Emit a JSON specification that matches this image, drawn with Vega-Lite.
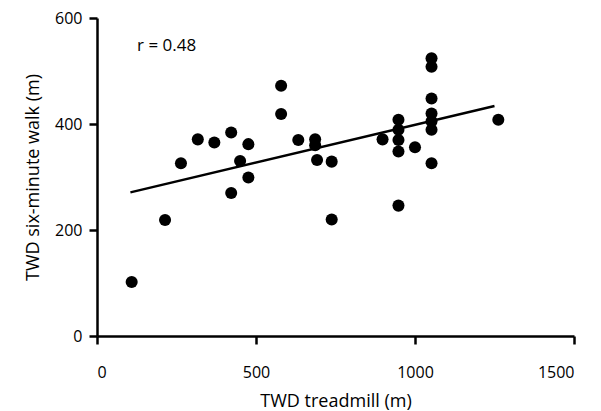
{
  "$schema": "https://vega.github.io/schema/vega-lite/v6.json",
  "width": 477,
  "height": 318,
  "autosize": "none",
  "padding": {"left": 97, "top": 18, "right": 27, "bottom": 75},
  "background": "white",
  "config": {
    "view": {"stroke": null},
    "font": "Open Sans",
    "axis": {
      "grid": false,
      "domainColor": "black",
      "domainWidth": 2.5,
      "tickColor": "black",
      "tickWidth": 2.5,
      "tickSize": 8,
      "labelColor": "black",
      "labelFont": "Open Sans",
      "labelFontSize": 16,
      "titleColor": "black",
      "titleFont": "Open Sans",
      "titleFontSize": 18,
      "titleFontWeight": "normal"
    }
  },
  "datasets": {
    "points": [
      {"treadmill": 109, "walk": 102},
      {"treadmill": 214, "walk": 219},
      {"treadmill": 264, "walk": 326},
      {"treadmill": 317, "walk": 371},
      {"treadmill": 369, "walk": 365},
      {"treadmill": 422, "walk": 384},
      {"treadmill": 422, "walk": 270},
      {"treadmill": 450, "walk": 330},
      {"treadmill": 476, "walk": 362},
      {"treadmill": 476, "walk": 299},
      {"treadmill": 579, "walk": 472},
      {"treadmill": 579, "walk": 419},
      {"treadmill": 633, "walk": 370},
      {"treadmill": 686, "walk": 371},
      {"treadmill": 686, "walk": 360},
      {"treadmill": 692, "walk": 332},
      {"treadmill": 738, "walk": 329},
      {"treadmill": 738, "walk": 220},
      {"treadmill": 898, "walk": 371},
      {"treadmill": 948, "walk": 408},
      {"treadmill": 948, "walk": 389},
      {"treadmill": 948, "walk": 370},
      {"treadmill": 948, "walk": 348},
      {"treadmill": 948, "walk": 246},
      {"treadmill": 1000, "walk": 356},
      {"treadmill": 1052, "walk": 524},
      {"treadmill": 1052, "walk": 508},
      {"treadmill": 1052, "walk": 448},
      {"treadmill": 1052, "walk": 420},
      {"treadmill": 1052, "walk": 405},
      {"treadmill": 1052, "walk": 389},
      {"treadmill": 1052, "walk": 326},
      {"treadmill": 1262, "walk": 408}
    ],
    "fit": [
      {"treadmill": 105, "walk": 271},
      {"treadmill": 1250, "walk": 434}
    ],
    "note": [
      {"treadmill": 126, "walk": 548, "label": "r = 0.48"}
    ]
  },
  "encoding": {
    "x": {
      "field": "treadmill",
      "type": "quantitative",
      "scale": {"domain": [0, 1500], "nice": false, "zero": false},
      "axis": {"values": [0, 500, 1000, 1500], "format": "d", "title": "TWD treadmill (m)", "labelPadding": 20, "titlePadding": 12}
    },
    "y": {
      "field": "walk",
      "type": "quantitative",
      "scale": {"domain": [0, 600], "nice": false, "zero": false},
      "axis": {"values": [0, 200, 400, 600], "format": "d", "title": "TWD six-minute walk (m)", "labelPadding": 7, "titlePadding": 12}
    }
  },
  "layer": [
    {
      "data": {"name": "fit"},
      "mark": {"type": "line", "color": "black", "strokeWidth": 2.5}
    },
    {
      "data": {"name": "points"},
      "mark": {"type": "circle", "color": "black", "opacity": 1, "size": 145}
    },
    {
      "data": {"name": "note"},
      "mark": {"type": "text", "align": "left", "baseline": "middle", "fontSize": 17, "font": "Open Sans", "color": "black"},
      "encoding": {"text": {"field": "label"}}
    }
  ]
}
